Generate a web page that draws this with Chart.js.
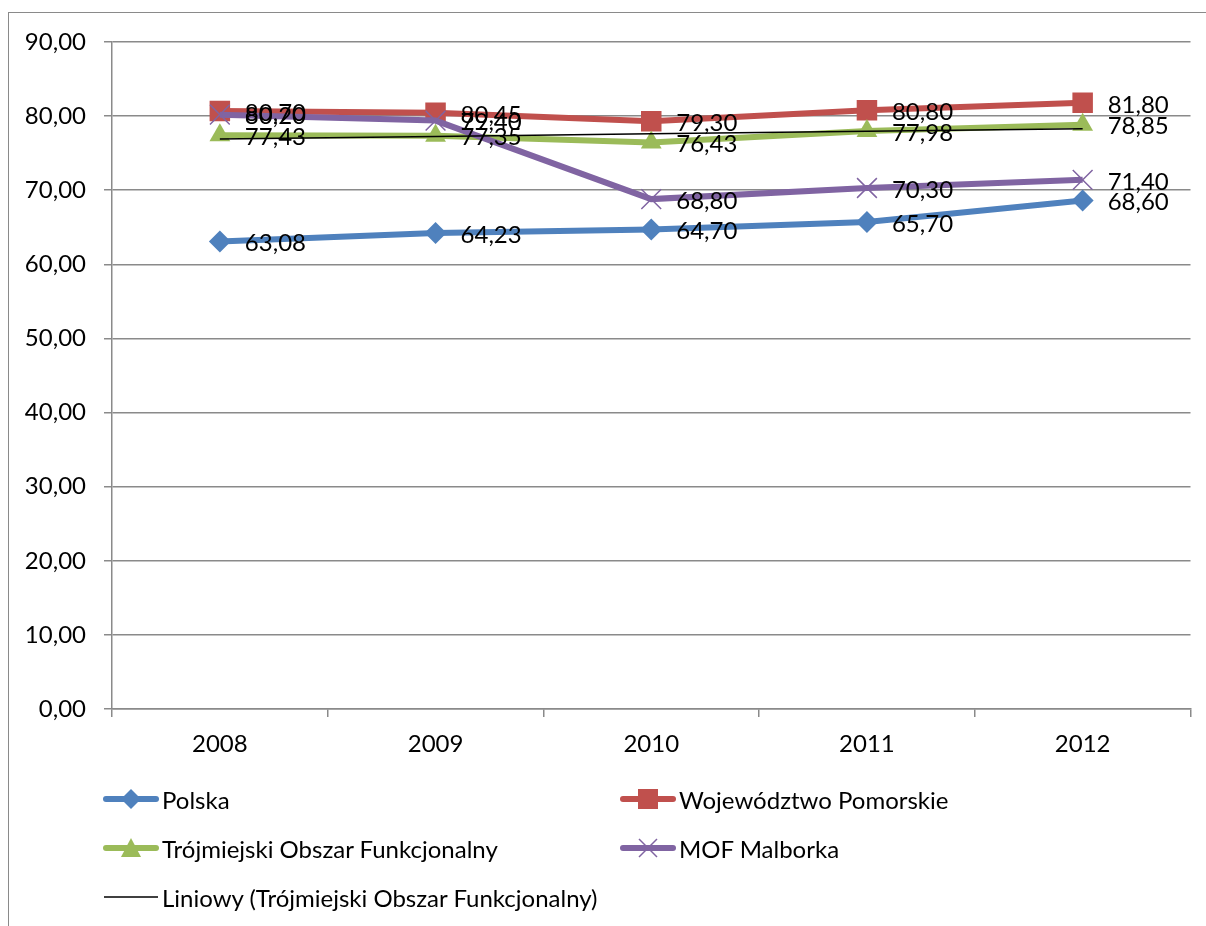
<!DOCTYPE html>
<html>
<head>
<meta charset="utf-8">
<script src="https://cdn.jsdelivr.net/npm/chart.js@4"></script>
<style>
  body { margin: 0; background: #fff; font-family: Lato, sans-serif; }
  #frame { position: absolute; left: 8px; top: 12px; width: 1300px; height: 1000px;
           border-left: 1px solid #8a8a8a; border-top: 1px solid #8a8a8a; }
  #c { position: absolute; left: 0; top: 0; }
  .leg { position: absolute; display: flex; align-items: center; font-size: 24px; color: #000; white-space: nowrap; }
  .leg svg { margin-right: 3px; }
</style>
</head>
<body>
<div id="frame"></div>
<canvas id="c" width="1206" height="926"></canvas>
<div id="legend"></div>
<script>
var years = ['2008', '2009', '2010', '2011', '2012'];
var polska = [63.08, 64.23, 64.70, 65.70, 68.60];
var pomorskie = [80.70, 80.45, 79.30, 80.80, 81.80];
var trojmiasto = [77.43, 77.35, 76.43, 77.98, 78.85];
var malbork = [80.20, 79.40, 68.80, 70.30, 71.40];
var trend = [76.91, 77.26, 77.61, 77.96, 78.30];
var yTicks = [0, 10, 20, 30, 40, 50, 60, 70, 80, 90];

var FONT = 'Lato';
var fmt = function(v) { return v.toFixed(2).replace('.', ','); };

// value labels right of each point
var valueLabels = {
  id: 'valueLabels',
  afterDatasetsDraw: function(chart) {
    var ctx = chart.ctx;
    ctx.save();
    ctx.font = '24px ' + FONT;
    ctx.fillStyle = '#000';
    ctx.textBaseline = 'middle';
    ctx.textAlign = 'left';
    chart.data.datasets.forEach(function(ds, i) {
      if (!ds.showLabels) return;
      chart.getDatasetMeta(i).data.forEach(function(pt, j) {
        ctx.fillText(fmt(ds.data[j]), pt.x + 25, pt.y + 2);
      });
    });
    ctx.restore();
  }
};

new Chart(document.getElementById('c'), {
  type: 'line',
  data: {
    labels: years,
    datasets: [
      { label: 'Liniowy (Trójmiejski Obszar Funkcjonalny)', data: trend, borderColor: '#000', borderWidth: 1.5,
        pointRadius: 0, order: 0 },
      { label: 'MOF Malborka', data: malbork, borderColor: '#8064A2', borderWidth: 6,
        pointStyle: 'crossRot', pointRadius: 14, pointBorderWidth: 1.5, pointBorderColor: '#8064A2',
        showLabels: true, order: 1 },
      { label: 'Trójmiejski Obszar Funkcjonalny', data: trojmiasto, borderColor: '#9BBB59', borderWidth: 6,
        pointStyle: 'triangle', pointRadius: 12, pointBorderWidth: 0, pointBackgroundColor: '#9BBB59',
        showLabels: true, order: 2 },
      { label: 'Województwo Pomorskie', data: pomorskie, borderColor: '#C0504D', borderWidth: 6,
        pointStyle: 'rect', pointRadius: 14.5, pointBorderWidth: 0, pointBackgroundColor: '#C0504D',
        showLabels: true, order: 3 },
      { label: 'Polska', data: polska, borderColor: '#4F81BD', borderWidth: 6,
        pointStyle: 'rectRot', pointRadius: 11, pointBorderWidth: 0, pointBackgroundColor: '#4F81BD',
        showLabels: true, order: 4 }
    ]
  },
  options: {
    responsive: false,
    animation: false,
    layout: { padding: { top: 42, right: 11, left: 0, bottom: 0 } },
    plugins: { legend: { display: false }, tooltip: { enabled: false } },
    scales: {
      x: {
        offset: true,
        grid: { offset: true, drawOnChartArea: false, color: '#8a8a8a', lineWidth: 1.5, tickLength: 8 },
        border: { color: '#8a8a8a', width: 1.5 },
        ticks: { color: '#000', font: { family: FONT, size: 24 }, padding: 13, maxRotation: 0 },
        afterFit: function(s) { s.height = 926 - 709; }
      },
      y: {
        min: 0, max: 90,
        afterBuildTicks: function(s) { s.ticks = yTicks.map(function(v) { return { value: v }; }); },
        grid: { color: '#8a8a8a', lineWidth: 1.5, tickLength: 8 },
        border: { color: '#8a8a8a', width: 1.5 },
        ticks: { color: '#000', font: { family: FONT, size: 24 }, padding: 18, callback: function(v) { return fmt(v); } },
        afterFit: function(s) { s.width = 112; }
      }
    }
  },
  plugins: [valueLabels]
});

// legend (html), two columns
var legendItems = [
  { text: 'Polska', color: '#4F81BD', mark: 'diamond', x: 103, y: 799 },
  { text: 'Województwo Pomorskie', color: '#C0504D', mark: 'square', x: 620, y: 799 },
  { text: 'Trójmiejski Obszar Funkcjonalny', color: '#9BBB59', mark: 'triangle', x: 103, y: 848 },
  { text: 'MOF Malborka', color: '#8064A2', mark: 'cross', x: 620, y: 848 },
  { text: 'Liniowy (Trójmiejski Obszar Funkcjonalny)', color: '#000', mark: 'none', x: 103, y: 897 }
];
function markSvg(it) {
  var c = it.color, m = '';
  var line = it.mark === 'none'
    ? '<line x1="1" y1="15" x2="55" y2="15" stroke="#000" stroke-width="1.5"/>'
    : '<line x1="3" y1="15" x2="53" y2="15" stroke="' + c + '" stroke-width="6" stroke-linecap="round"/>';
  if (it.mark === 'diamond') m = '<polygon points="28,5 38,15 28,25 18,15" fill="' + c + '"/>';
  if (it.mark === 'square') m = '<rect x="18" y="5" width="20" height="20" fill="' + c + '"/>';
  if (it.mark === 'triangle') m = '<polygon points="28,5 38,24 18,24" fill="' + c + '"/>';
  if (it.mark === 'cross') m = '<path d="M19 6 L37 24 M37 6 L19 24" stroke="' + c + '" stroke-width="1.5"/>';
  return '<svg width="56" height="30">' + line + m + '</svg>';
}
var legend = document.getElementById('legend');
legendItems.forEach(function(it) {
  var d = document.createElement('div');
  d.className = 'leg';
  d.style.left = it.x + 'px';
  d.style.top = (it.y - 15) + 'px';
  d.innerHTML = markSvg(it) + '<span>' + it.text + '</span>';
  legend.appendChild(d);
});
</script>
</body>
</html>
